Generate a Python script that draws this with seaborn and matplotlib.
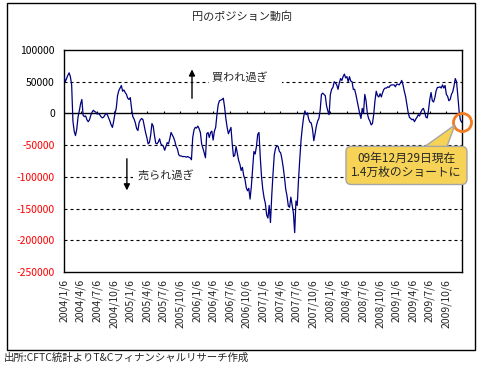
import pandas as pd
import matplotlib
matplotlib.use('Agg')
import matplotlib.pyplot as plt
from matplotlib.patches import Rectangle, Polygon
import seaborn as sns

# weekly CFTC yen net position (contracts)
start_date = '2004-01-06'
position = [
    58000, 50000, 55000, 60000, 64000, 58000, 45000, -12000, -28000, -35000,
    -25000, -6000, 4000, 15000, 22000, -3000, -5000, -4000, -10000, -13000,
    -10000, -3000, 2000, 5000, 3000, 2000, -1000, 0, -2000, -5000,
    -7000, -6000, -3000, 0, -2000, -7000, -12000, -18000, -22000, -12000,
    0, 8000, 28000, 36000, 40000, 44000, 35000, 37000, 33000, 30000,
    24000, 22000, 25000, 8000, -5000, -9000, -15000, -24000, -27000, -14000,
    -10000, -8000, -10000, -20000, -30000, -38000, -48000, -46000, -34000, -16000,
    -20000, -35000, -47000, -48000, -45000, -40000, -48000, -50000, -52000, -58000,
    -52000, -46000, -48000, -40000, -30000, -34000, -38000, -44000, -52000, -56000,
    -65000, -67000, -67000, -68000, -68000, -68000, -69000, -68000, -69000, -70000,
    -73000, -38000, -26000, -22000, -23000, -20000, -24000, -30000, -48000, -55000,
    -62000, -70000, -32000, -30000, -38000, -30000, -28000, -42000, -28000, -22000,
    -2000, 14000, 20000, 21000, 22000, 24000, 10000, -8000, -22000, -32000,
    -27000, -22000, -48000, -68000, -66000, -52000, -63000, -74000, -80000, -90000,
    -85000, -98000, -104000, -117000, -122000, -118000, -135000, -115000, -88000, -60000,
    -64000, -52000, -33000, -30000, -69000, -100000, -120000, -133000, -142000, -160000,
    -165000, -145000, -172000, -130000, -95000, -65000, -55000, -51000, -52000, -60000,
    -62000, -72000, -85000, -101000, -120000, -130000, -146000, -148000, -132000, -145000,
    -157000, -188000, -138000, -145000, -105000, -72000, -42000, -22000, -6000, 4000,
    -2000, 1000, -9000, -14000, -15000, -25000, -43000, -32000, -20000, -12000,
    -8000, 5000, 30000, 32000, 30000, 28000, 12000, 4000, -2000, 30000,
    38000, 41000, 50000, 48000, 45000, 38000, 48000, 55000, 52000, 58000,
    62000, 56000, 58000, 50000, 58000, 51000, 50000, 38000, 38000, 30000,
    20000, 10000, 0, -8000, 8000, 0, 30000, 20000, 0, -8000,
    -12000, -18000, -16000, -2000, 20000, 35000, 28000, 26000, 31000, 26000,
    33000, 38000, 40000, 40000, 42000, 41000, 44000, 45000, 45000, 45000,
    42000, 46000, 46000, 45000, 48000, 52000, 45000, 35000, 27000, 15000,
    2000, -6000, -8000, -10000, -9000, -13000, -9000, -6000, -2000, -4000,
    2000, 6000, 8000, 2000, -6000, -7000, 5000, 22000, 33000, 20000,
    18000, 25000, 36000, 41000, 41000, 42000, 40000, 45000, 40000, 44000,
    30000, 27000, 20000, 22000, 30000, 34000, 43000, 55000, 50000, 28000,
    4000, -10000, -14000,
]
dates = pd.date_range(start_date, periods=len(position), freq='7D')

tick_dates = [
    '2004-01-06', '2004-04-06', '2004-07-06', '2004-10-06',
    '2005-01-06', '2005-04-06', '2005-07-06', '2005-10-06',
    '2006-01-06', '2006-04-06', '2006-07-06', '2006-10-06',
    '2007-01-06', '2007-04-06', '2007-07-06', '2007-10-06',
    '2008-01-06', '2008-04-06', '2008-07-06', '2008-10-06',
    '2009-01-06', '2009-04-06', '2009-07-06', '2009-10-06',
]
tick_labels = [
    '2004/1/6', '2004/4/6', '2004/7/6', '2004/10/6',
    '2005/1/6', '2005/4/6', '2005/7/6', '2005/10/6',
    '2006/1/6', '2006/4/6', '2006/7/6', '2006/10/6',
    '2007/1/6', '2007/4/6', '2007/7/6', '2007/10/6',
    '2008/1/6', '2008/4/6', '2008/7/6', '2008/10/6',
    '2009/1/6', '2009/4/6', '2009/7/6', '2009/10/6',
]
y_ticks = [100000, 50000, 0, -50000, -100000, -150000, -200000, -250000]
grid_levels = [50000, -50000, -100000, -150000, -200000]

sns.set_theme(style='white')
plt.rcParams['font.family'] = ['Noto Sans CJK JP', 'DejaVu Sans']

fig = plt.figure(figsize=(4.78, 3.68), dpi=100)
ax = fig.add_axes([64 / 478, 96 / 368, 398 / 478, 222 / 368])

df = pd.DataFrame({'date': dates, 'pos': position})
sns.lineplot(data=df, x='date', y='pos', color='#000080', lw=0.9, ax=ax, zorder=3)

# gridlines + zero axis
for g in grid_levels:
    ax.axhline(g, color='black', lw=0.8, dashes=(2.7, 2.7), zorder=1)
ax.axhline(0, color='black', lw=1, zorder=2)
ax.vlines(pd.to_datetime(tick_dates), 0, 4000, color='black', lw=0.8, zorder=2)

ax.set_xlim(pd.Timestamp('2004-01-06'), pd.Timestamp('2009-12-31'))
ax.set_ylim(-250000, 100000)
ax.set_yticks(y_ticks)
ax.set_yticklabels([str(v) for v in y_ticks], fontsize=7.5)
for lab, v in zip(ax.get_yticklabels(), y_ticks):
    lab.set_color('red' if v < 0 else 'black')
ax.set_xticks(pd.to_datetime(tick_dates))
ax.set_xticklabels(tick_labels, rotation=90, fontsize=7.5)
ax.tick_params(axis='y', length=0, pad=6.5)
ax.tick_params(axis='x', length=0, pad=5)
ax.set_xlabel('')
ax.set_ylabel('')
for s in ax.spines.values():
    s.set_color('black')
    s.set_linewidth(1)

# over-bought / over-sold markers
ax.annotate('', xy=(0.3216, 0.925), xytext=(0.3216, 0.77), xycoords='axes fraction',
            arrowprops=dict(arrowstyle='-|>', color='black', lw=1, mutation_scale=9))
ax.text(0.372, 0.878, '買われ過ぎ\u3000', transform=ax.transAxes, fontsize=8, va='center',
        bbox=dict(fc='white', ec='none', pad=2), zorder=4)
ax.annotate('', xy=(0.158, 0.355), xytext=(0.158, 0.5225), xycoords='axes fraction',
            arrowprops=dict(arrowstyle='-|>', color='black', lw=1, mutation_scale=9))
ax.text(0.185, 0.437, '売られ過ぎ\u3000', transform=ax.transAxes, fontsize=8, va='center',
        bbox=dict(fc='white', ec='none', pad=3), zorder=4)

# latest point highlight and callout
ax.plot(dates[-1], position[-1], marker='o', ms=13, mfc='none', mec='#F37B20',
        mew=2, zorder=5, clip_on=False)
pointer = Polygon([(0.887, 0.54), (0.957, 0.54), (0.982, 0.662)], closed=True,
                  transform=ax.transAxes, fc='#F6D356', ec='#A6A6A6', lw=1,
                  zorder=6, clip_on=False)
ax.add_patch(pointer)
ax.text(0.8605, 0.48, '09年12月29日現在\n1.4万枚のショートに', transform=ax.transAxes,
        ha='center', va='center', fontsize=8.5, linespacing=1.15, zorder=7,
        bbox=dict(boxstyle='round,pad=0.45', fc='#F6D356', ec='#A6A6A6', lw=1))

fig.text(242 / 478, 1 - 16 / 368, '円のポジション動向', ha='center', va='center', fontsize=8)
fig.text(4 / 478, 1 - 358 / 368, '出所:CFTC統計よりT&Cフィナンシャルリサーチ作成',
         ha='left', va='center', fontsize=7.5)
fig.add_artist(Rectangle((7 / 478, 18 / 368), 468 / 478, 347 / 368,
                         transform=fig.transFigure, fill=False, ec='black', lw=1))

fig.savefig('out.png', dpi=100)
